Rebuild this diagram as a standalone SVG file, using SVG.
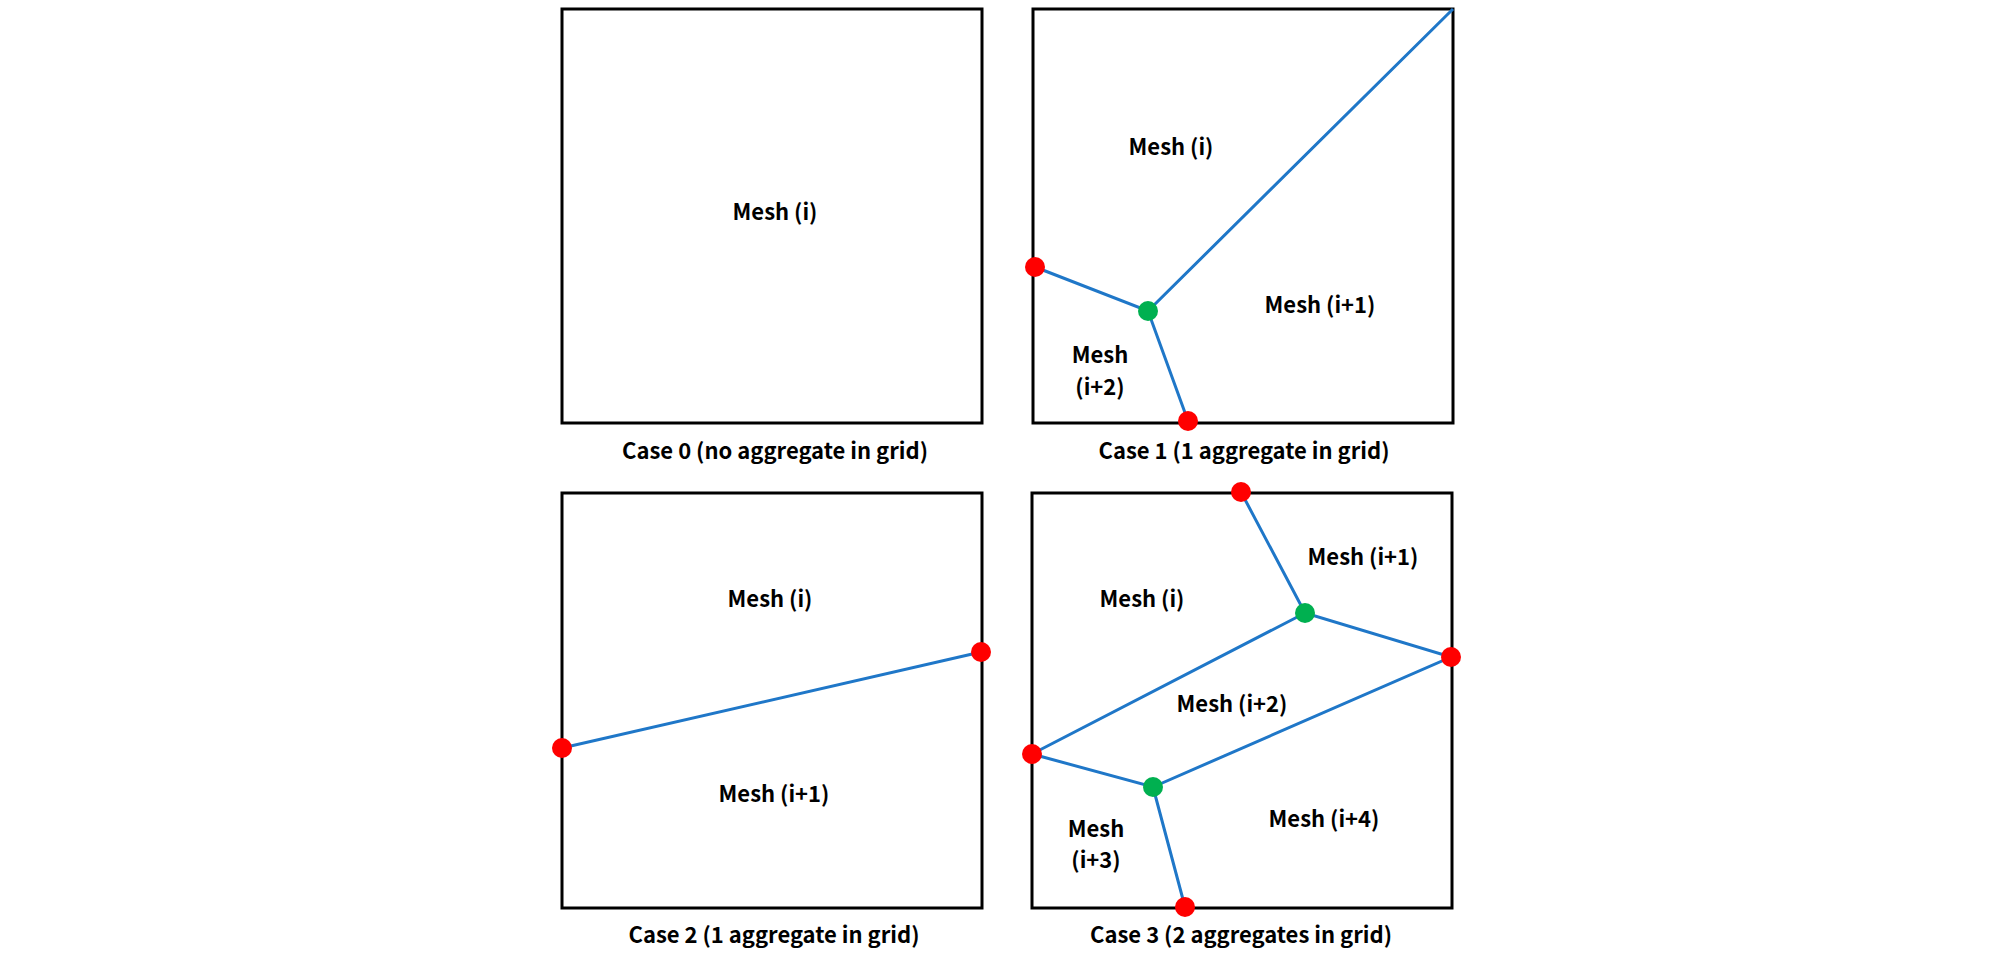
<svg xmlns="http://www.w3.org/2000/svg" width="2008" height="960" viewBox="0 0 2008 960">
<style>
.box{fill:none;stroke:#000;stroke-width:3}
.e{stroke:#1F77C8;stroke-width:3;fill:none}
.r{fill:#FF0000}.g{fill:#00B050}
text{font-family:"Noto Sans CJK KR","Noto Sans",sans-serif;font-weight:bold;font-size:22px;text-anchor:middle;fill:#000}
</style>
<rect width="2008" height="960" fill="#fff"/>
<g id="case0"><rect class="box" x="562" y="9" width="420" height="414"/><text x="775" y="220">Mesh (i)</text><text x="775" y="459">Case 0 (no aggregate in grid)</text></g>
<g id="case1"><rect class="box" x="1033" y="9" width="420" height="414"/><text x="1171" y="155">Mesh (i)</text><text x="1320" y="313">Mesh (i+1)</text><text x="1100" y="363">Mesh</text><text x="1100" y="395">(i+2)</text><text x="1244" y="459">Case 1 (1 aggregate in grid)</text></g>
<g id="case2"><rect class="box" x="562" y="493" width="420" height="415"/><text x="770" y="607">Mesh (i)</text><text x="774" y="802">Mesh (i+1)</text><text x="774" y="943">Case 2 (1 aggregate in grid)</text></g>
<g id="case3"><rect class="box" x="1032" y="493" width="420" height="415"/><text x="1363" y="565">Mesh (i+1)</text><text x="1142" y="607">Mesh (i)</text><text x="1232" y="712">Mesh (i+2)</text><text x="1096" y="837">Mesh</text><text x="1096" y="868">(i+3)</text><text x="1324" y="827">Mesh (i+4)</text><text x="1241" y="943">Case 3 (2 aggregates in grid)</text></g>
<g id="connectors">
<path class="e" d="M1035 267L1148 311L1453 9M1148 311L1188 421"/>
<path class="e" d="M562 748L981 652"/>
<path class="e" d="M1241 492L1305 613L1451 657L1153 787L1032 754L1305 613M1153 787L1185 907"/>
</g>
<g id="dots">
<circle class="r" cx="1035" cy="267" r="10"/><circle class="g" cx="1148" cy="311" r="10"/><circle class="r" cx="1188" cy="421" r="10"/>
<circle class="r" cx="562" cy="748" r="10"/><circle class="r" cx="981" cy="652" r="10"/>
<circle class="r" cx="1241" cy="492" r="10"/><circle class="g" cx="1305" cy="613" r="10"/><circle class="r" cx="1451" cy="657" r="10"/><circle class="r" cx="1032" cy="754" r="10"/><circle class="g" cx="1153" cy="787" r="10"/><circle class="r" cx="1185" cy="907" r="10"/>
</g>
</svg>
